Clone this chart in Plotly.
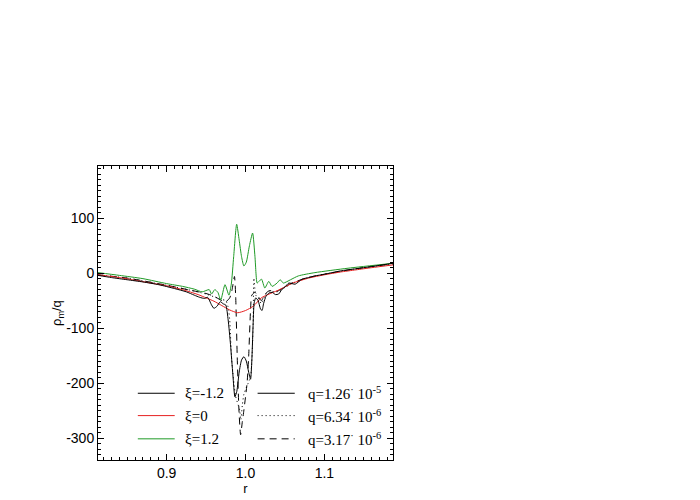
import plotly.graph_objects as go

# ==================== DATA ====================
# xi = -1.2, q = 1.26e-5 (black solid)
r_neg_q1 = [0.813, 0.83, 0.85, 0.87, 0.89, 0.91, 0.925, 0.935, 0.942, 0.948,
            0.952, 0.957, 0.96, 0.964, 0.968, 0.972, 0.975, 0.978, 0.981, 0.984,
            0.9866, 0.989, 0.992, 0.995, 0.998, 1.001, 1.004, 1.0064, 1.008, 1.0095,
            1.011, 1.013, 1.016, 1.019, 1.021, 1.023, 1.026, 1.03, 1.034, 1.038,
            1.042, 1.046, 1.05, 1.055, 1.063, 1.0715, 1.08, 1.088, 1.1, 1.12,
            1.14, 1.16, 1.187]
rho_neg_q1 = [-4, -8, -12, -16, -21, -28, -34, -40, -44, -46,
              -44, -58, -64, -60, -52, -56, -58, -85, -130, -185,
              -225, -215, -180, -158, -152, -160, -180, -193, -160, -100,
              -54, -45, -50, -65, -68, -55, -42, -36, -35, -39,
              -38, -30, -25, -18, -20, -11, -8, -5, -2, 4,
              8, 12, 18]

# xi = -1.2, q = 6.34e-6 (black dotted)
r_neg_q2 = [0.813, 0.85, 0.9, 0.93, 0.95, 0.96, 0.97, 0.975, 0.978, 0.98,
            0.9825, 0.9875, 0.9926, 0.994, 0.996, 0.998, 1.0, 1.0064, 1.0085, 1.0098,
            1.0106, 1.013, 1.016, 1.02, 1.025, 1.03, 1.04, 1.05, 1.06, 1.08,
            1.1, 1.14, 1.187]
rho_neg_q2 = [-3, -9, -22, -31, -38, -43, -48, -50, -62, -85,
              -158, -224, -249, -267, -240, -220, -212, -188, -145, -85,
              -9, -40, -45, -55, -40, -33, -34, -26, -18, -8,
              -2, 8, 17]

# xi = -1.2, q = 3.17e-6 (black dashed)
r_neg_q3 = [0.813, 0.85, 0.9, 0.93, 0.95, 0.96, 0.97, 0.975, 0.98, 0.983,
            0.986, 0.9875, 0.9895, 0.9917, 0.9938, 0.996, 0.998, 1.002, 1.004, 1.0064,
            1.008, 1.012, 1.016, 1.02, 1.025, 1.03, 1.04, 1.05, 1.06, 1.08,
            1.1, 1.14, 1.187]
rho_neg_q3 = [-3, -9, -22, -31, -37, -42, -50, -52, -45, -30,
              -6, -40, -152, -249, -294, -270, -249, -200, -152, -67,
              -40, -35, -42, -50, -38, -32, -33, -25, -17, -8,
              -2, 8, 17]

# xi = 0 (red)
r_zero = [0.813, 0.84, 0.86, 0.88, 0.9, 0.92, 0.94, 0.95, 0.96, 0.97,
          0.98, 0.99, 1.0, 1.01, 1.02, 1.03, 1.04, 1.05, 1.06, 1.08,
          1.1, 1.12, 1.14, 1.16, 1.187]
rho_zero = [-3, -8, -13, -18, -23, -30, -39, -45, -51, -59,
            -67, -72, -68, -60, -45, -38, -32, -25, -18, -9,
            -3, 2, 6, 10, 15]

# xi = 1.2 (green)
r_pos = [0.813, 0.84, 0.87, 0.9, 0.92, 0.935, 0.945, 0.954, 0.957, 0.961,
         0.965, 0.9686, 0.974, 0.979, 0.982, 0.985, 0.9888, 0.992, 0.995, 0.998,
         1.001, 1.005, 1.009, 1.012, 1.0148, 1.017, 1.0203, 1.0245, 1.0295, 1.0337,
         1.04, 1.044, 1.048, 1.057, 1.067, 1.088, 1.13, 1.187]
rho_pos = [1, -4, -10, -19, -24, -29, -34, -30, -38, -30,
           -35, -49, -21, -40, -20, 30, 89, 60, 30, 13,
           20, 50, 73, 30, -18, -15, -11, -27, -15, -24,
           -18, -12, -18, -12, -5, 1, 9, 18]

y_tickvals = [-300, -200, -100, 0, 100]
y_ticktext = ['-300', '-200', '-100', '0', '100']

xi_labels = ['ξ=-1.2', 'ξ=0', 'ξ=1.2']
q_labels = ['q=1.26<sup>·</sup> 10<sup>-5</sup>',
            'q=6.34<sup>·</sup> 10<sup>-6</sup>',
            'q=3.17<sup>·</sup> 10<sup>-6</sup>']

BLACK = '#000000'
RED = '#e62020'
GREEN = '#1f9a26'
SANS = 'Liberation Sans'
SERIF = 'Liberation Serif'
DOT = '1px,3px'
DASH = '7px,5px'

# ==================== FIGURE ====================
fig = go.Figure()

def add_curve(r, rho, color, dash):
  fig.add_trace(go.Scatter(
    x=r, y=rho, mode='lines',
    line=dict(color=color, width=1, dash=dash, shape='spline', smoothing=0.6),
    showlegend=False, hoverinfo='skip',
  ))

add_curve(r_neg_q3, rho_neg_q3, BLACK, DASH)
add_curve(r_neg_q2, rho_neg_q2, BLACK, DOT)
add_curve(r_zero, rho_zero, RED, 'solid')
add_curve(r_pos, rho_pos, GREEN, 'solid')
add_curve(r_neg_q1, rho_neg_q1, BLACK, 'solid')

# ── Two-column legend drawn inside the plot (paper coordinates) ──
row_y = [0.227, 0.151, 0.072]
xi_colors = [BLACK, RED, GREEN]
q_dashes = ['solid', DOT, DASH]

for i, y in enumerate(row_y):
  fig.add_shape(type='line', xref='paper', yref='paper',
                x0=0.135, x1=0.26, y0=y, y1=y,
                line=dict(color=xi_colors[i], width=1))
  fig.add_annotation(x=0.287, y=y, xref='paper', yref='paper',
                     text=xi_labels[i], showarrow=False,
                     xanchor='left', yanchor='middle',
                     font=dict(family=SERIF, size=15, color='black'))
  fig.add_shape(type='line', xref='paper', yref='paper',
                x0=0.541, x1=0.667, y0=y, y1=y,
                line=dict(color=BLACK, width=1, dash=q_dashes[i]))
  fig.add_annotation(x=0.706, y=y, xref='paper', yref='paper',
                     text=q_labels[i], showarrow=False,
                     xanchor='left', yanchor='middle',
                     font=dict(family=SERIF, size=15, color='black'))

# y-axis title placed by hand so it sits where the reference has it
fig.add_annotation(x=0, y=0.5, xref='paper', yref='paper',
                   text='ρ<sub>m</sub>/q', showarrow=False, textangle=-90,
                   xanchor='center', yanchor='middle', xshift=-41,
                   font=dict(family=SANS, size=13, color='black'))

axis_common = dict(
  showgrid=False, zeroline=False, automargin=False,
  showline=True, linecolor='black', linewidth=1, mirror='ticks',
  ticks='inside', ticklen=6, tickwidth=1, tickcolor='black',
  tickfont=dict(family=SANS, size=14, color='black'),
)

# The page body adds an 8px offset, so margins are shifted to compensate.
fig.update_layout(
  width=700, height=500,
  paper_bgcolor='white', plot_bgcolor='white',
  margin=dict(l=90, r=315, t=158, b=48),
  xaxis=dict(
    range=[0.813, 1.187], dtick=0.1, tick0=0.9, tickformat='.1f',
    minor=dict(dtick=0.01, ticks='inside', ticklen=3, tickcolor='black'),
    title=dict(text='r', font=dict(family=SANS, size=13, color='black'), standoff=3),
    **axis_common,
  ),
  yaxis=dict(
    range=[-340, 195], tickmode='array', tickvals=y_tickvals, ticktext=y_ticktext,
    minor=dict(tickmode='linear', tick0=0, dtick=10, ticks='inside', ticklen=3,
               tickcolor='black'),
    **axis_common,
  ),
)

fig.write_html('out.html')
